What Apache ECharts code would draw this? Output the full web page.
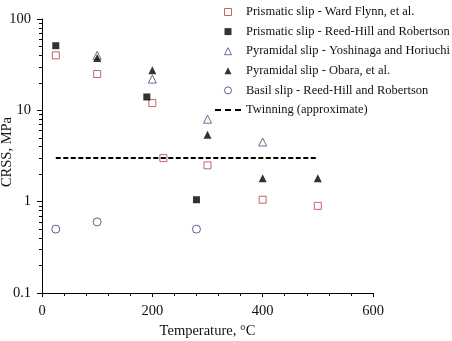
<!DOCTYPE html>
<html>
<head>
<meta charset="utf-8">
<style>
  html, body { margin: 0; padding: 0; background: #fff; }
  #main { width: 452px; height: 341px; }
</style>
</head>
<body>
<div id="main"></div>
<script src="https://cdn.jsdelivr.net/npm/echarts@6/dist/echarts.min.js"></script>
<script>
// temperatures (°C) and CRSS (MPa)
var wardFlynnT = [25, 100, 200, 220, 300, 400, 500];
var wardFlynnCRSS = [40, 25, 12, 3, 2.5, 1.05, 0.9];

var reedHillPrismT = [25, 190, 280];
var reedHillPrismCRSS = [51, 14, 1.05];

var yoshinagaT = [100, 200, 300, 400];
var yoshinagaCRSS = [40, 22, 8, 4.5];

var obaraT = [100, 200, 300, 400, 500];
var obaraCRSS = [37.5, 27.5, 5.4, 1.8, 1.8];

var basilT = [25, 100, 280];
var basilCRSS = [0.5, 0.6, 0.5];

var twinningT = [25, 500];
var twinningCRSS = [3, 3];

var seriesNames = [
  'Prismatic slip - Ward Flynn, et al.',
  'Prismatic slip - Reed-Hill and Robertson',
  'Pyramidal slip - Yoshinaga and Horiuchi',
  'Pyramidal slip - Obara, et al.',
  'Basil slip - Reed-Hill and Robertson',
  'Twinning (approximate)'
];

var xTicks = [0, 200, 400, 600];
var yMinorTicks = [0.2, 0.3, 0.4, 0.5, 0.6, 0.7, 0.8, 0.9,
                   2, 3, 4, 5, 6, 7, 8, 9,
                   20, 30, 40, 50, 60, 70, 80, 90];

function pairs(xs, ys) {
  return xs.map(function (x, i) { return [x, ys[i]]; });
}

var font = 'Liberation Serif, Times New Roman, serif';
// legend icons as paths so they keep their aspect inside the 26px wide box
var squareIcon = 'path://M0,0H10V10H0Z';
var triangleIcon = 'path://M5,0L10,10H0Z';
var circleIcon = 'path://M5,0A5,5,0,1,1,5,10A5,5,0,1,1,5,0Z';
var dashIcon = 'path://M0,0H6V2H0Z M10,0H16V2H10Z M20,0H26V2H20Z';
var legendIcons = [squareIcon, squareIcon, triangleIcon, triangleIcon, circleIcon, dashIcon];

var chart = echarts.init(document.getElementById('main'));

var legendData = seriesNames.map(function (n, i) {
  var item = { name: n, icon: legendIcons[i] };
  if (i === 5) item.itemStyle = { color: '#000', borderWidth: 0 };
  return item;
});

var option = {
  animation: false,
  backgroundColor: '#fff',
  textStyle: { fontFamily: font, color: '#111' },
  grid: { left: 42, right: 79, top: 19, bottom: 48, containLabel: false, outerBoundsMode: 'none' },
  legend: {
    orient: 'vertical',
    left: 215,
    top: 5,
    padding: 0,
    itemWidth: 26,
    itemHeight: 7,
    itemGap: 5.6,
    symbolKeepAspect: true,
    itemStyle: { borderWidth: 1 },
    textStyle: { fontFamily: font, fontSize: 12.5, color: '#111', lineHeight: 14 },
    data: legendData
  },
  xAxis: {
    type: 'value',
    min: xTicks[0],
    max: xTicks[xTicks.length - 1],
    interval: 200,
    name: 'Temperature, °C',
    nameLocation: 'middle',
    nameGap: 31,
    nameMoveOverlap: false,
    nameTextStyle: { fontFamily: font, fontSize: 14.5, color: '#111' },
    axisLine: { lineStyle: { color: '#000', width: 1 } },
    axisTick: { length: 4, lineStyle: { color: '#000' } },
    minorTick: { show: true, splitNumber: 5, length: 3, lineStyle: { color: '#000' } },
    axisLabel: { margin: 11, fontFamily: font, fontSize: 14.5, color: '#111' },
    splitLine: { show: false }
  },
  yAxis: [{
    type: 'log',
    logBase: 10,
    min: 0.1,
    max: 100,
    name: 'CRSS, MPa',
    nameLocation: 'middle',
    nameGap: 27,
    nameMoveOverlap: false,
    nameTextStyle: { fontFamily: font, fontSize: 14.5, color: '#111', padding: [0, 0, 0, 8] },
    axisLine: { show: true, lineStyle: { color: '#000', width: 1 } },
    axisTick: { length: 5, lineStyle: { color: '#000' } },
    axisLabel: { margin: 11, fontFamily: font, fontSize: 14.5, color: '#111' },
    splitLine: { show: false }
  }, {
    // minor ticks of the log axis at 2..9 of each decade
    type: 'log',
    logBase: 10,
    min: 0.1,
    max: 100,
    position: 'left',
    axisLine: { show: false },
    axisLabel: { show: false },
    axisTick: { show: true, length: 3, customValues: yMinorTicks, lineStyle: { color: '#000' } },
    splitLine: { show: false }
  }],
  series: [{
    name: seriesNames[0],
    type: 'scatter',
    symbol: 'rect',
    symbolSize: 7,
    itemStyle: { color: '#fff', borderColor: '#b5404a', borderWidth: 1 },
    data: pairs(wardFlynnT, wardFlynnCRSS)
  }, {
    name: seriesNames[1],
    type: 'scatter',
    symbol: 'rect',
    symbolSize: 7,
    itemStyle: { color: '#000' },
    data: pairs(reedHillPrismT, reedHillPrismCRSS)
  }, {
    name: seriesNames[2],
    type: 'scatter',
    symbol: 'triangle',
    symbolSize: 8,
    itemStyle: { color: '#fff', borderColor: '#3e4d7c', borderWidth: 1 },
    data: pairs(yoshinagaT, yoshinagaCRSS)
  }, {
    name: seriesNames[3],
    type: 'scatter',
    symbol: 'triangle',
    symbolSize: 8,
    itemStyle: { color: '#000' },
    data: pairs(obaraT, obaraCRSS)
  }, {
    name: seriesNames[4],
    type: 'scatter',
    symbol: 'circle',
    symbolSize: 8,
    itemStyle: { color: '#fff', borderColor: '#2f3d6c', borderWidth: 1 },
    data: pairs(basilT, basilCRSS)
  }, {
    name: seriesNames[5],
    type: 'line',
    symbol: 'none',
    showSymbol: false,
    lineStyle: { color: '#000', width: 2, type: [5, 2.5] },
    itemStyle: { color: '#000' },
    data: pairs(twinningT, twinningCRSS)
  }]
};

chart.setOption(option);
</script>
</body>
</html>
